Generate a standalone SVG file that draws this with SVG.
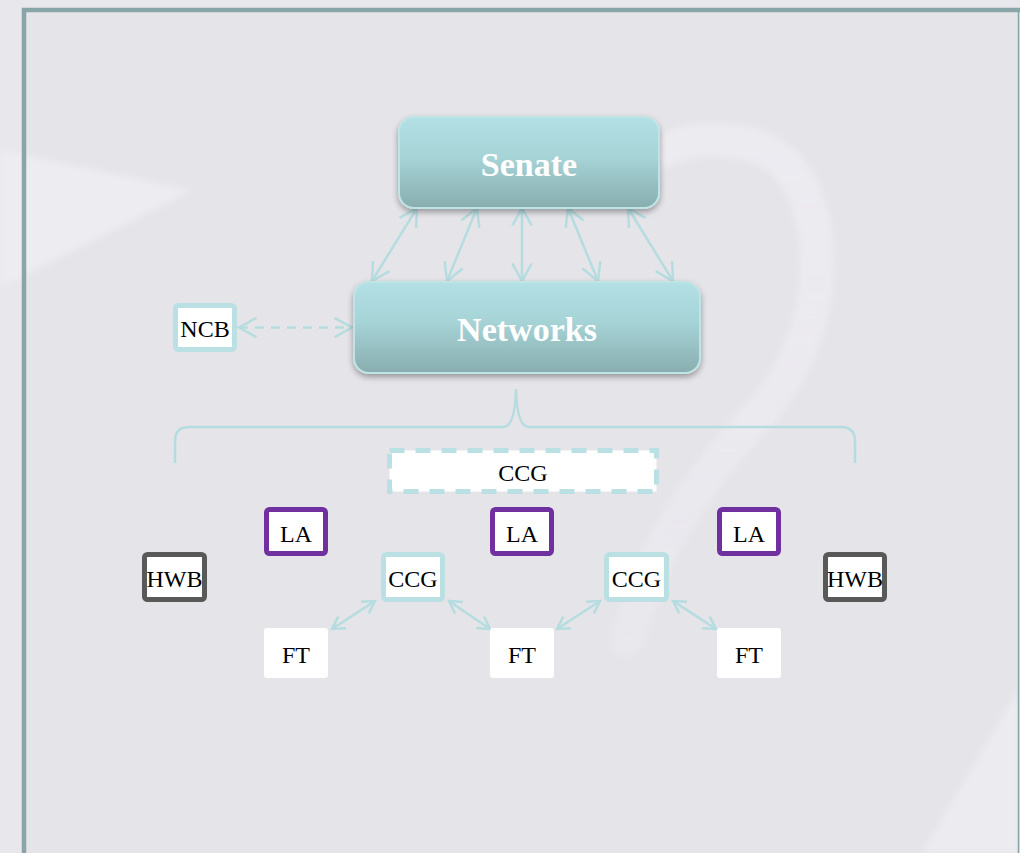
<svg xmlns="http://www.w3.org/2000/svg" width="1020" height="853" viewBox="0 0 1020 853">
  <defs>
    <linearGradient id="tealGrad" x1="0" y1="0" x2="0" y2="1">
      <stop offset="0" stop-color="#b2e0e4"/>
      <stop offset="0.45" stop-color="#a6d3d6"/>
      <stop offset="1" stop-color="#88adaf"/>
    </linearGradient>
    <linearGradient id="bandFade" x1="0" y1="0" x2="0" y2="1">
      <stop offset="0" stop-color="#f0eff4" stop-opacity="0.9"/>
      <stop offset="0.6" stop-color="#f0eff4" stop-opacity="0.7"/>
      <stop offset="1" stop-color="#f0eff4" stop-opacity="0.45"/>
    </linearGradient>
    <filter id="shadow" x="-10%" y="-20%" width="120%" height="150%">
      <feDropShadow dx="0" dy="3" stdDeviation="3" flood-color="#000" flood-opacity="0.35"/>
    </filter>
    <filter id="soft" x="-20%" y="-20%" width="140%" height="140%">
      <feGaussianBlur stdDeviation="3"/>
    </filter>
    <marker id="vHead" viewBox="0 0 22 22" refX="19.5" refY="11" markerWidth="22" markerHeight="22" markerUnits="userSpaceOnUse" orient="auto-start-reverse">
      <path d="M2,1.3 L19.5,11 L2,20.7" fill="none" stroke="#b5dde0" stroke-width="2.5"/>
    </marker>
    <marker id="vHeadSmall" viewBox="0 0 18 18" refX="15" refY="9" markerWidth="18" markerHeight="18" markerUnits="userSpaceOnUse" orient="auto-start-reverse">
      <path d="M3,2 L15,9 L3,16" fill="none" stroke="#b5dde0" stroke-width="2.5"/>
    </marker>
    <style>
      .lbl { font-family: "Liberation Serif", "Times New Roman", serif; font-size: 24px; fill: #000; text-anchor: middle; }
      .big { font-family: "Liberation Serif", "Times New Roman", serif; font-size: 34px; font-weight: bold; fill: #fff; text-anchor: middle; }
      .la { fill: #fff; stroke: #7030a0; stroke-width: 5; }
      .hwb { fill: #fff; stroke: #595959; stroke-width: 5; }
      .ccg { fill: #fff; stroke: #bbe0e3; stroke-width: 5; }
      .ft { fill: #fff; stroke: none; }
      .tealbox { fill: url(#tealGrad); stroke: #bfe4e6; stroke-width: 2; filter: url(#shadow); }
      .link { fill: none; stroke: #b5dde0; stroke-width: 2.5; }
    </style>
  </defs>

  <!-- backdrop -->
  <rect x="0" y="0" width="1020" height="853" fill="#e8e7eb"/>
  <rect x="24" y="10" width="996" height="843" fill="#e5e4e9"/>

  <!-- faint decorative swooshes -->
  <path d="M0,150 L192,190 L0,288 Z" fill="#edecf1" filter="url(#soft)"/>
  <path d="M665,150 C690,138 715,138 745,143 C790,152 815,195 817,255 C819,320 795,380 745,430 C700,480 660,540 640,600 L627,640"
        fill="none" stroke="url(#bandFade)" stroke-width="34" stroke-linecap="round" filter="url(#soft)" opacity="0.75"/>
  <path d="M1018,690 L922,853 L1018,853 Z" fill="#ecebf0" filter="url(#soft)"/>

  <!-- frame -->
  <path d="M24,853 L24,10 L1020,10" fill="none" stroke="#8aa5a8" stroke-width="4.5"/>
  <line x1="1018.5" y1="12" x2="1018.5" y2="853" stroke="#8aa5a8" stroke-width="1.5"/>

  <!-- connectors -->
  <g id="connectors">
    <line class="link" x1="417" y1="208" x2="372" y2="281" marker-start="url(#vHead)" marker-end="url(#vHead)"/>
    <line class="link" x1="477" y1="208" x2="447" y2="281" marker-start="url(#vHead)" marker-end="url(#vHead)"/>
    <line class="link" x1="522" y1="208" x2="522" y2="281" marker-start="url(#vHead)" marker-end="url(#vHead)"/>
    <line class="link" x1="568" y1="208" x2="598" y2="281" marker-start="url(#vHead)" marker-end="url(#vHead)"/>
    <line class="link" x1="628" y1="208" x2="673" y2="281" marker-start="url(#vHead)" marker-end="url(#vHead)"/>
    <line class="link" x1="239" y1="327.5" x2="352" y2="327.5" stroke-dasharray="9,7" marker-start="url(#vHead)" marker-end="url(#vHead)"/>
    <path class="link" stroke-width="2" d="M175,463 L175,441 Q175,427 189,427 L503,427 Q515,427 516,389 Q517,427 529,427 L841,427 Q855,427 855,441 L855,463"/>
    <line class="link" x1="375" y1="601" x2="332" y2="629" marker-start="url(#vHeadSmall)" marker-end="url(#vHeadSmall)"/>
    <line class="link" x1="449" y1="601" x2="490" y2="629" marker-start="url(#vHeadSmall)" marker-end="url(#vHeadSmall)"/>
    <line class="link" x1="600" y1="601" x2="557" y2="629" marker-start="url(#vHeadSmall)" marker-end="url(#vHeadSmall)"/>
    <line class="link" x1="673" y1="601" x2="716" y2="629" marker-start="url(#vHeadSmall)" marker-end="url(#vHeadSmall)"/>
  </g>

  <g id="senate">
    <rect class="tealbox" x="399" y="117" width="260" height="91" rx="15"/>
    <text class="big" x="529" y="176">Senate</text>
  </g>

  <g id="networks">
    <rect class="tealbox" x="354" y="282" width="346" height="91" rx="15"/>
    <text class="big" x="527" y="341">Networks</text>
  </g>

  <g id="ncb">
    <rect class="ccg" x="175.5" y="305.5" width="59" height="44" rx="3"/>
    <text class="lbl" x="205" y="337">NCB</text>
  </g>

  <g id="ccg-group">
    <rect x="389.5" y="450.5" width="267" height="41" fill="#fff" stroke="#bbe0e3" stroke-width="5" stroke-dasharray="15,11"/>
    <text class="lbl" x="523" y="481">CCG</text>
  </g>

  <g id="la-1">
    <rect class="la" x="266.5" y="509.5" width="59" height="44" rx="3"/>
    <text class="lbl" x="296" y="542">LA</text>
  </g>
  <g id="la-2">
    <rect class="la" x="492.5" y="509.5" width="59" height="44" rx="3"/>
    <text class="lbl" x="522" y="542">LA</text>
  </g>
  <g id="la-3">
    <rect class="la" x="719.5" y="509.5" width="59" height="44" rx="3"/>
    <text class="lbl" x="749" y="542">LA</text>
  </g>

  <g id="hwb-left">
    <rect class="hwb" x="144.5" y="554.5" width="60" height="45" rx="3"/>
    <text class="lbl" x="174.5" y="587">HWB</text>
  </g>
  <g id="hwb-right">
    <rect class="hwb" x="825.5" y="554.5" width="59" height="45" rx="3"/>
    <text class="lbl" x="855" y="587">HWB</text>
  </g>

  <g id="ccg-1">
    <rect class="ccg" x="383.5" y="554.5" width="59" height="45" rx="3"/>
    <text class="lbl" x="413" y="587">CCG</text>
  </g>
  <g id="ccg-2">
    <rect class="ccg" x="606.5" y="554.5" width="60" height="45" rx="3"/>
    <text class="lbl" x="636.5" y="587">CCG</text>
  </g>

  <g id="ft-1">
    <rect class="ft" x="264" y="628" width="64" height="50" rx="3"/>
    <text class="lbl" x="296" y="663">FT</text>
  </g>
  <g id="ft-2">
    <rect class="ft" x="490" y="628" width="64" height="50" rx="3"/>
    <text class="lbl" x="522" y="663">FT</text>
  </g>
  <g id="ft-3">
    <rect class="ft" x="717" y="628" width="64" height="50" rx="3"/>
    <text class="lbl" x="749" y="663">FT</text>
  </g>
</svg>
